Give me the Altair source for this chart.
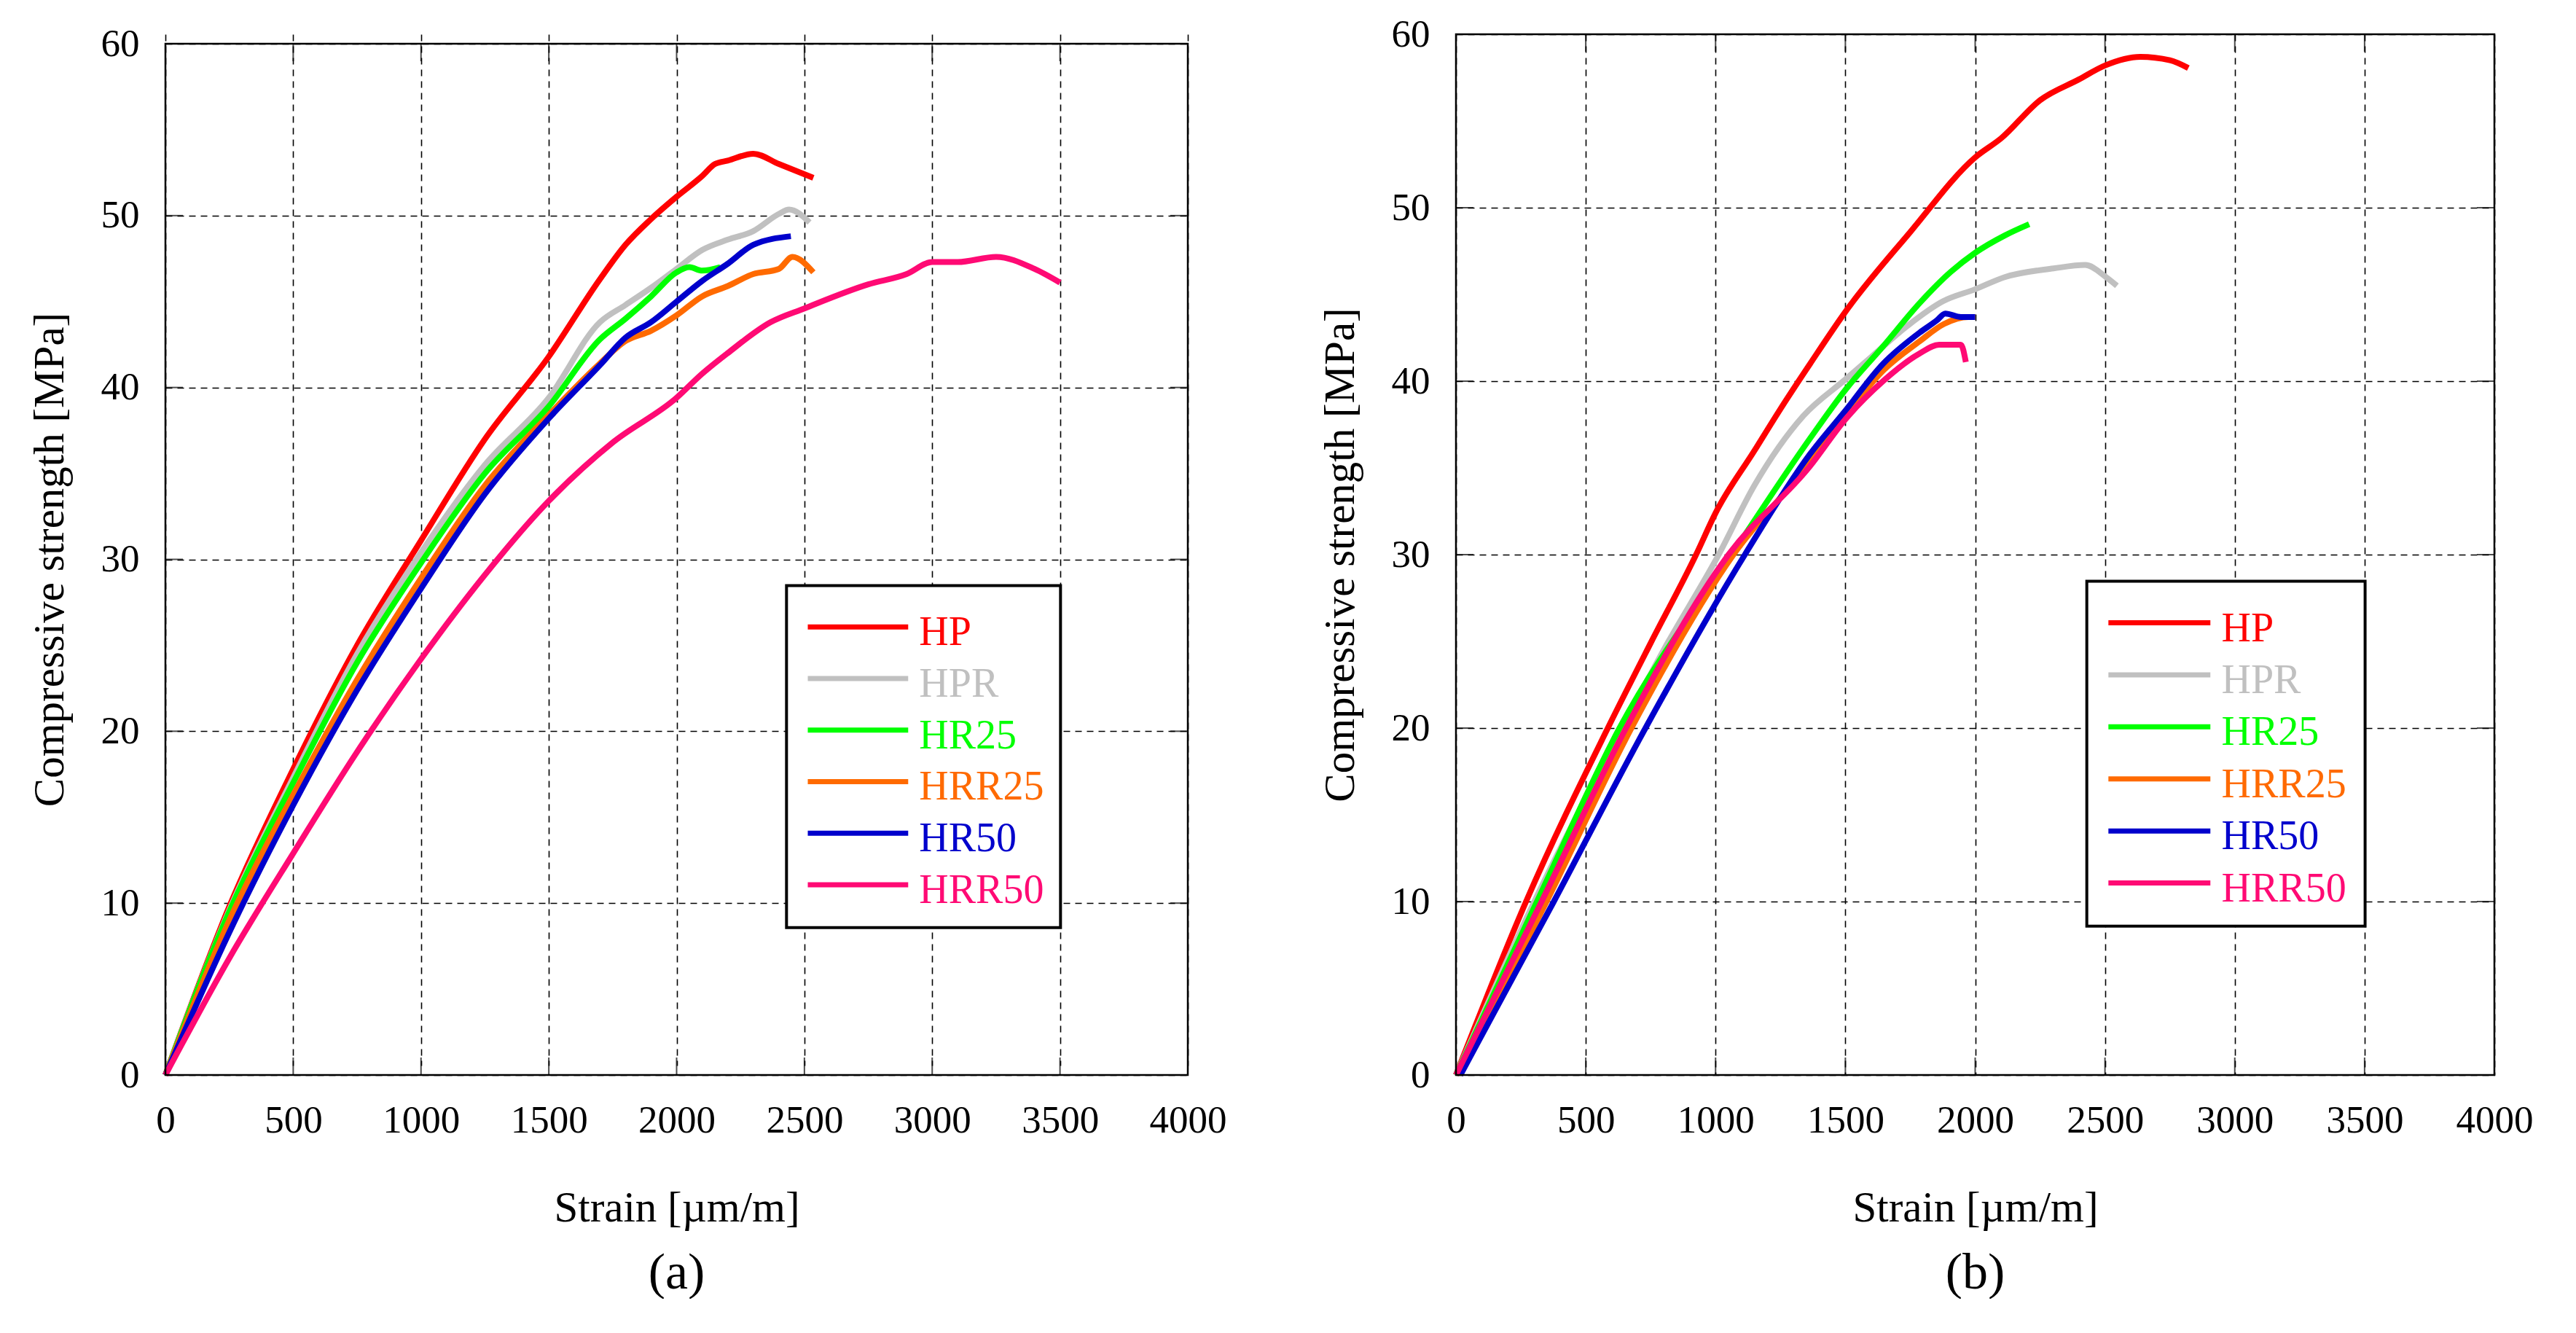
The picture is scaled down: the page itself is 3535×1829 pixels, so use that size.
import altair as alt
import pandas as pd

FONT = "Liberation Serif"

SERIES = ["HP", "HPR", "HR25", "HRR25", "HR50", "HRR50"]
COLORS = ["#FF0000", "#C0C0C0", "#00FF00", "#FF6A00", "#0000CC", "#FF0A74"]

X_TICKS = [0, 500, 1000, 1500, 2000, 2500, 3000, 3500, 4000]
Y_TICKS = [0, 10, 20, 30, 40, 50, 60]

# panel (a): (strain [µm/m], stress [MPa])
HP_A = [(0, 0), (250, 9.8), (500, 17.8), (750, 25.0), (1000, 31.1), (1250, 37.0),
        (1500, 41.8), (1700, 46.3), (1800, 48.3), (1900, 49.8), (2000, 51.1),
        (2100, 52.3), (2150, 53.0), (2200, 53.2), (2300, 53.6), (2400, 53.0), (2535, 52.2)]
HPR_A = [(0, 0), (250, 9.6), (500, 17.3), (750, 24.5), (1000, 30.4), (1250, 35.5),
         (1500, 39.4), (1700, 43.8), (1800, 44.8), (1900, 45.8), (2000, 46.9),
         (2100, 48.0), (2200, 48.6), (2300, 49.1), (2400, 50.1), (2440, 50.35), (2520, 49.6)]
HR25_A = [(0, 0), (250, 9.5), (500, 17.0), (750, 24.0), (1000, 29.8), (1250, 35.0),
          (1500, 38.9), (1700, 42.8), (1800, 44.0), (1900, 45.3), (2000, 46.7),
          (2050, 47.0), (2100, 46.8), (2171, 47.0)]
HRR25_A = [(0, 0), (250, 9.0), (500, 16.3), (750, 23.0), (1000, 28.9), (1250, 34.3),
           (1500, 38.4), (1700, 41.4), (1800, 42.7), (1900, 43.3), (2000, 44.2),
           (2100, 45.3), (2200, 45.9), (2300, 46.6), (2400, 46.9), (2453, 47.6), (2535, 46.7)]
HR50_A = [(0, 0), (250, 8.3), (500, 15.7), (750, 22.4), (1000, 28.3), (1250, 33.8),
          (1500, 38.2), (1700, 41.3), (1800, 42.9), (1900, 43.8), (2000, 45.0),
          (2100, 46.2), (2200, 47.2), (2300, 48.3), (2447, 48.8)]
HRR50_A = [(0, 0), (250, 6.8), (500, 12.9), (750, 18.8), (1000, 24.2), (1250, 29.1),
           (1500, 33.4), (1750, 36.8), (2000, 39.4), (2100, 40.8), (2200, 42.0),
           (2368, 43.8), (2500, 44.6), (2750, 46.0), (2900, 46.6), (3000, 47.3),
           (3100, 47.3), (3250, 47.6), (3400, 46.9), (3500, 46.1)]

# panel (b)
HP_B = [(0, 0), (270, 10.0), (585, 20.0), (750, 24.9), (925, 30.0), (1000, 32.4),
        (1150, 36.0), (1250, 38.4), (1364, 41.0), (1500, 44.0), (1750, 48.6),
        (2000, 52.9), (2100, 54.0), (2250, 56.2), (2400, 57.4), (2500, 58.2),
        (2636, 58.7), (2750, 58.5), (2821, 58.05)]
HPR_B = [(0, 0), (302, 10.0), (640, 20.0), (800, 24.5), (1012, 30.0), (1150, 34.0),
         (1338, 38.0), (1500, 40.1), (1600, 41.4), (1740, 43.2), (1875, 44.6),
         (2000, 45.3), (2114, 46.0), (2302, 46.5), (2424, 46.7), (2504, 46.0), (2546, 45.5)]
HR25_B = [(0, 0), (312, 10.0), (630, 20.0), (1063, 30.0), (1364, 36.7), (1500, 39.5),
          (1645, 42.0), (1786, 44.5), (1906, 46.3), (2000, 47.4), (2114, 48.4), (2208, 49.05)]
HRR25_B = [(15, 0), (349, 10.0), (676, 20.0), (1069, 30.0), (1364, 35.3), (1500, 38.0),
           (1645, 40.6), (1786, 42.3), (1880, 43.3), (1974, 43.7), (2000, 43.7)]
HR50_B = [(17, 0), (377, 10.0), (730, 20.0), (1113, 30.0), (1364, 35.8), (1500, 38.3),
          (1645, 41.0), (1786, 42.8), (1852, 43.5), (1885, 43.9), (1945, 43.7), (2000, 43.7)]
HRR50_B = [(0, 0), (330, 10.0), (655, 20.0), (1050, 30.0), (1364, 35.1), (1500, 37.8),
           (1645, 40.0), (1786, 41.6), (1861, 42.1), (1945, 42.1), (1964, 41.1)]

PANEL_A = [HP_A, HPR_A, HR25_A, HRR25_A, HR50_A, HRR50_A]
PANEL_B = [HP_B, HPR_B, HR25_B, HRR25_B, HR50_B, HRR50_B]


def axis_x():
    return alt.Axis(
        values=X_TICKS, title="Strain [µm/m]", format="d",
        grid=True, gridDash=[9, 7], gridColor="black", gridWidth=1.6, gridOpacity=1,
        domain=False, ticks=False, tickSize=0,
        labelFont=FONT, labelFontSize=53, labelColor="black", labelPadding=36,
        labelFlush=False, labelOverlap=False,
        titleFont=FONT, titleFontSize=59, titleFontWeight="normal", titleColor="black",
        titlePadding=64,
    )


def axis_y():
    return alt.Axis(
        values=Y_TICKS, title="Compressive strength [MPa]", format="d",
        grid=True, gridDash=[9, 7], gridColor="black", gridWidth=1.6, gridOpacity=1,
        domain=False, ticks=False, tickSize=0,
        labelFont=FONT, labelFontSize=53, labelColor="black", labelPadding=36,
        labelFlush=False, labelOverlap=False,
        titleFont=FONT, titleFontSize=59, titleFontWeight="normal", titleColor="black",
        titlePadding=40,
    )


def make_panel(curves, caption, width, height, top=0):
    # the plotting frame runs from `top` down to `height`
    inner = height - top
    xs = alt.Scale(domain=[0, 4000], nice=False)
    ys = alt.Scale(domain=[0, 60], nice=False, range=[height, top])
    layers = []

    for name, color, pts in zip(SERIES, COLORS, curves):
        df = pd.DataFrame(pts, columns=["strain", "mpa"])
        df["series"] = name
        layers.append(
            alt.Chart(df)
            .mark_line(color=color, strokeWidth=8, strokeJoin="round", interpolate="monotone")
            .encode(
                x=alt.X("strain:Q", scale=xs, axis=axis_x()),
                y=alt.Y("mpa:Q", scale=ys, axis=axis_y()),
            )
        )

    # short inward ticks on all four sides of the frame
    xt = pd.DataFrame({"strain": X_TICKS[1:-1]})
    yt = pd.DataFrame({"mpa": Y_TICKS[1:-1]})
    for ypos in (height - 12, top + 12):
        layers.append(
            alt.Chart(xt).mark_tick(size=24, thickness=2, color="black", orient="vertical")
            .encode(x=alt.X("strain:Q", scale=xs, axis=axis_x()), y=alt.value(ypos))
        )
    for xpos in (12, width - 12):
        layers.append(
            alt.Chart(yt).mark_tick(size=24, thickness=2, color="black", orient="horizontal")
            .encode(y=alt.Y("mpa:Q", scale=ys, axis=axis_y()), x=alt.value(xpos))
        )

    one = pd.DataFrame({"k": [0]})
    # frame
    layers.append(
        alt.Chart(one)
        .mark_rect(filled=False, stroke="black", strokeWidth=2.5)
        .encode(x=alt.value(0), x2=alt.value(width), y=alt.value(top), y2=alt.value(height))
    )

    # legend box
    layers.append(
        alt.Chart(one)
        .mark_rect(fill="white", stroke="black", strokeWidth=4)
        .encode(
            x=alt.value(0.6075 * width), x2=alt.value(0.8755 * width),
            y=alt.value(top + 0.5255 * inner), y2=alt.value(top + 0.857 * inner),
        )
    )
    for i, (name, color) in enumerate(zip(SERIES, COLORS)):
        row = top + (0.5655 + 0.05 * i) * inner
        lab = pd.DataFrame({"series": [name]})
        layers.append(
            alt.Chart(lab)
            .mark_rule(color=color, strokeWidth=7)
            .encode(x=alt.value(0.6283 * width), x2=alt.value(0.7265 * width), y=alt.value(row))
        )
        layers.append(
            alt.Chart(lab)
            .mark_text(align="left", baseline="alphabetic", font=FONT, fontSize=56, color=color)
            .encode(text="series:N", x=alt.value(0.7372 * width), y=alt.value(row + 25))
        )

    return alt.layer(*layers).properties(
        width=width,
        height=height,
        title=alt.TitleParams(
            caption, orient="bottom", anchor="middle", frame="group",
            font=FONT, fontSize=70, fontWeight="normal", color="black", offset=26,
        ),
    )


left = make_panel(PANEL_A, "(a)", 1403, 1428, top=13)
right = make_panel(PANEL_B, "(b)", 1425, 1428)

chart = (
    alt.hconcat(left, right, spacing=127)
    .properties(padding={"left": 31, "top": 13, "right": 0, "bottom": 0}, background="white")
    .configure_view(stroke=None)
)

chart.save("out.html", embed_options={"renderer": "svg", "actions": False})
